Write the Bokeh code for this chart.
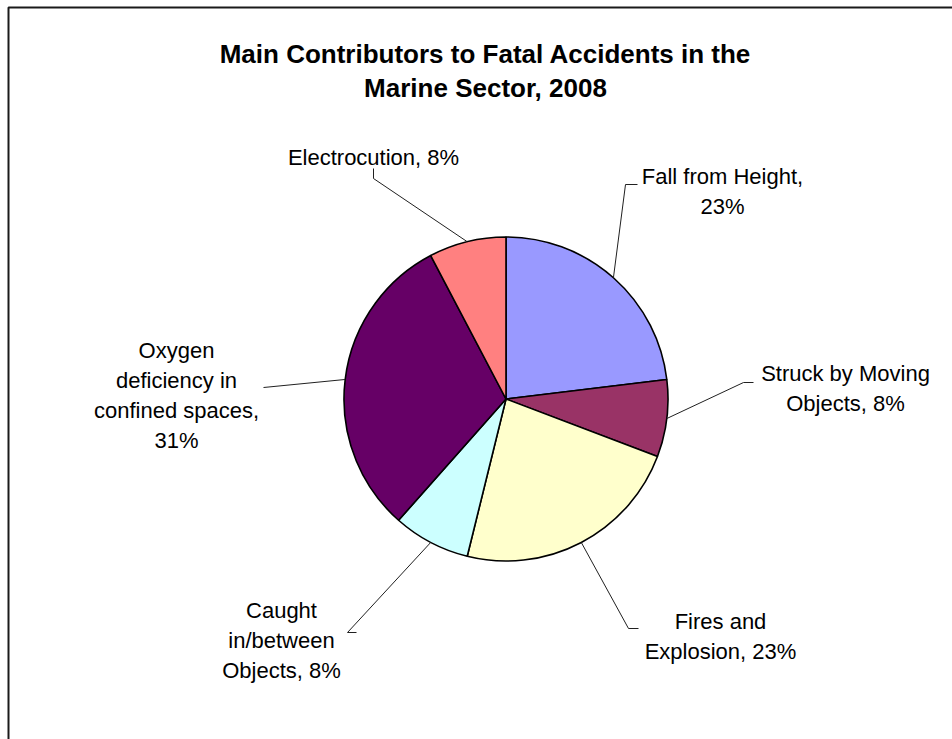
import math
from bokeh.plotting import figure
from bokeh.models import ColumnDataSource, Range1d, BoxAnnotation
from bokeh.core.properties import value
from bokeh.embed import file_html
from bokeh.resources import INLINE

# ---------------- data ----------------
title_lines = ["Main Contributors to Fatal Accidents in the", "Marine Sector, 2008"]
categories = ["Fall from Height", "Struck by Moving Objects", "Fires and Explosion",
              "Caught in/between Objects", "Oxygen deficiency in confined spaces", "Electrocution"]
shares = [23.1, 7.7, 23.1, 7.7, 30.8, 7.7]
colors = ["#9999FF", "#993366", "#FFFFCC", "#CCFFFF", "#660066", "#FF8080"]

# ---------------- layout (pixels, y downward) ----------------
W, H = 952, 739
CX, CY, R = 505.5, 398.5, 162.0
FONT = "Liberation Sans"
LABEL_SIZE = 22
LINE_H = 30
# number of words after which a label line wraps
wrap_after = [[3], [3], [2], [1, 2], [1, 3, 5], []]
label_x = [722, 845, 720, 281, 176, 373]
label_base = [176, 373, 621, 610, 350, 157]
# leader line points from the label side (then continues to the slice edge)
leader_pts = [
    [(637, 184), (625, 184)],
    [(753, 382), (743, 382)],
    [(638, 628), (628, 628)],
    [(356, 632), (347, 632)],
    [(263, 387)],
    [(373, 168), (373, 178)],
]


def Y(y):
    return H - y


p = figure(width=W, height=H, output_backend="svg", toolbar_location=None,
           x_range=Range1d(0, W), y_range=Range1d(0, H),
           x_axis_location=None, y_axis_location=None, min_border=0,
           outline_line_color=None, background_fill_color="white",
           border_fill_color="white")
p.grid.visible = False

# chart-area border (extends beyond the window at right/bottom)
p.add_layout(BoxAnnotation(left=8, right=W + 50, top=Y(7), bottom=-50,
                           fill_alpha=0, line_color="#1a1a1a", line_alpha=1.0,
                           line_width=2))

# ---------------- pie ----------------
total = sum(shares)
starts, ends, mids = [], [], []
cum = 0.0
for s in shares:
    a0 = math.pi / 2 - 2 * math.pi * cum / total
    cum += s
    a1 = math.pi / 2 - 2 * math.pi * cum / total
    starts.append(a0)
    ends.append(a1)
    mids.append((a0 + a1) / 2)

src = ColumnDataSource(dict(start=starts, end=ends, color=colors, cat=categories, share=shares))
p.wedge(x=CX, y=Y(CY), radius=R, start_angle="start", end_angle="end", direction="clock",
        fill_color="color", line_color="black", line_width=1.6, source=src)

# ---------------- leader lines ----------------
xs, ys = [], []
for pts, m in zip(leader_pts, mids):
    ex = CX + R * math.cos(m)
    ey = Y(CY) + R * math.sin(m)
    xs.append([q[0] for q in pts] + [ex])
    ys.append([Y(q[1]) for q in pts] + [ey])
p.multi_line(xs=xs, ys=ys, line_color="#202020", line_width=1)

# ---------------- labels ----------------
tx, ty, tt = [], [], []
for cat, s, brk, lx, lb in zip(categories, shares, wrap_after, label_x, label_base):
    words = f"{cat}, {round(s)}%".split(" ")
    lines, cur = [], []
    for i, w in enumerate(words):
        cur.append(w)
        if (i + 1) in brk:
            lines.append(" ".join(cur))
            cur = []
    if cur:
        lines.append(" ".join(cur))
    for k, ln in enumerate(lines):
        tx.append(lx)
        ty.append(Y(lb + k * LINE_H))
        tt.append(ln)
p.text(x=tx, y=ty, text=tt, text_font=value(FONT), text_font_size=f"{LABEL_SIZE}px",
       text_align="center", text_baseline="alphabetic", text_color="black")

# ---------------- title ----------------
p.text(x=[485, 485], y=[Y(53), Y(87)], text=title_lines, text_font=value(FONT),
       text_font_size="26px", text_font_style="bold", text_align="center",
       text_baseline="alphabetic", text_color="black")

open("out.html", "w").write(file_html(p, INLINE))
